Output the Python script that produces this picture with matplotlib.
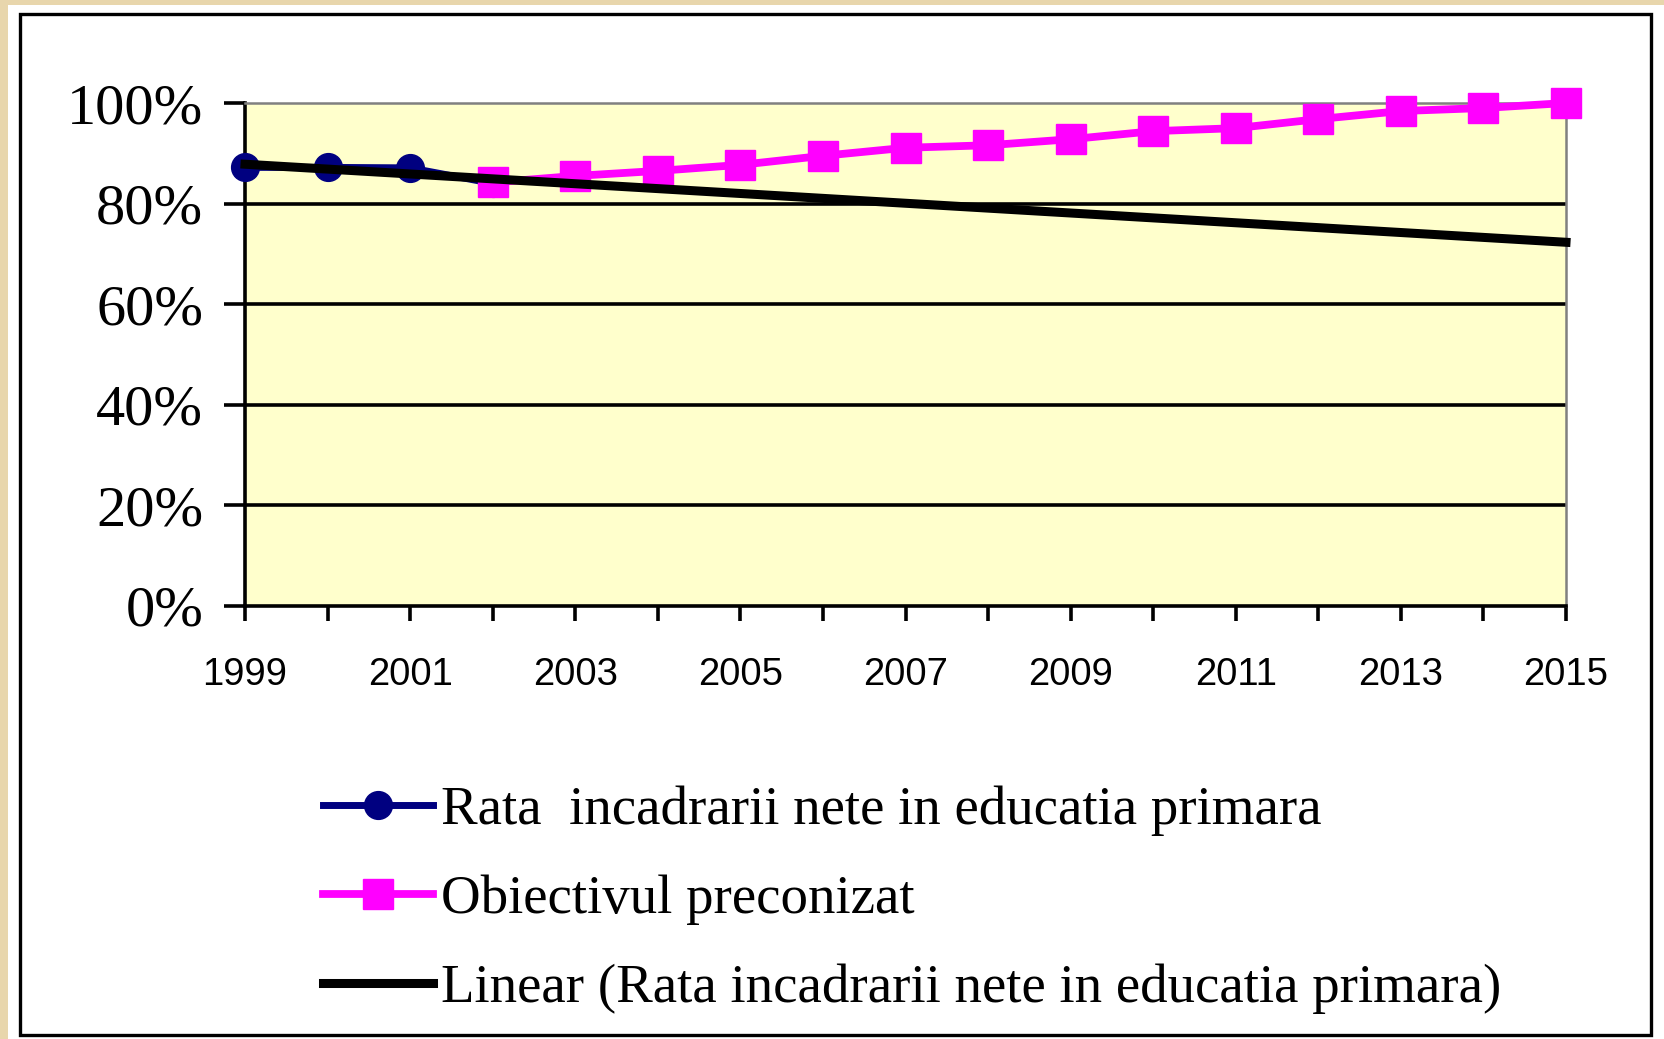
import numpy as np
import matplotlib
matplotlib.use("Agg")
import matplotlib.pyplot as plt
from matplotlib.patches import Rectangle

# ---- data ----
years = list(range(1999, 2016))
blue_years = [1999, 2000, 2001, 2002]
blue_values = [87.2, 87.2, 87.1, 84.0]
pink_years = list(range(2002, 2016))
pink_values = [84.2, 85.5, 86.5, 87.7, 89.5, 91.1, 91.6, 92.8, 94.4, 95.0, 96.8, 98.4, 99.0, 100.0]
y_ticks = [0, 20, 40, 60, 80, 100]
y_tick_labels = ["0%", "20%", "40%", "60%", "80%", "100%"]
x_tick_labels = [str(y) if (y - 1999) % 2 == 0 else "" for y in years]
label_blue = "Rata  incadrarii nete in educatia primara"
label_pink = "Obiectivul preconizat"
label_trend = "Linear (Rata incadrarii nete in educatia primara)"

W, H = 1664, 1039
fig = plt.figure(figsize=(W / 100, H / 100), dpi=100)
fig.patch.set_facecolor("#E8D6AC")

# white panel and black frame
fig.patches.append(Rectangle((8 / W, 0), 1, 1 - 5 / H, transform=fig.transFigure,
                             facecolor="white", edgecolor="none", zorder=-3))
fig.patches.append(Rectangle((20 / W, 1 - 1035 / H), (1651 - 20) / W, (1035 - 14) / H,
                             transform=fig.transFigure, facecolor="none",
                             edgecolor="black", linewidth=2.4, zorder=-2))

ax = fig.add_axes([245 / W, 1 - 606 / H, (1566 - 245) / W, (606 - 103) / H])
ax.set_zorder(1)
ax.set_facecolor("#FFFFCC")

# series
ax.plot(blue_years, blue_values, color="#000080", linewidth=5.0, marker="o",
        markersize=20, label=label_blue, clip_on=False, zorder=3)
ax.plot(pink_years, pink_values, color="#FF00FF", linewidth=5.6, marker="s",
        markersize=22, label=label_pink, clip_on=False, zorder=4)

# linear trend of the blue series
coef = np.polyfit(blue_years, blue_values, 1)
trend = np.polyval(coef, years)
ax.plot(years, trend, color="black", linewidth=6.5, label=label_trend,
        clip_on=False, zorder=5)

ax.set_xlim(1999, 2015)
ax.set_ylim(0, 100)

ax.set_yticks(y_ticks)
ax.set_yticklabels(y_tick_labels, fontfamily="Liberation Serif", fontsize=42)
ax.set_xticks(years)
ax.set_xticklabels(x_tick_labels, fontfamily="Liberation Sans", fontsize=27.5)

ax.tick_params(axis="y", length=15, width=2.6, pad=15, colors="black")
ax.tick_params(axis="x", length=11, width=2.6, pad=26, colors="black")

ax.grid(axis="y", color="black", linewidth=2.6)
ax.set_axisbelow(True)
gl = ax.yaxis.get_gridlines()
gl[0].set_visible(False)
gl[-1].set_visible(False)

for s in ("left", "bottom"):
    ax.spines[s].set_color("black")
    ax.spines[s].set_linewidth(2.6)
for s in ("top", "right"):
    ax.spines[s].set_color("#808080")
    ax.spines[s].set_linewidth(1.8)

leg = fig.legend(loc="upper left", bbox_to_anchor=(323 / W, 1 - 786 / H),
                 frameon=False, borderpad=0, borderaxespad=0,
                 handlelength=2.0, handletextpad=0.15, labelspacing=0.7,
                 numpoints=1, prop={"family": "Liberation Serif", "size": 39.5})
leg.set_zorder(6)

fig.savefig("out.png", dpi=100, facecolor=fig.get_facecolor())
